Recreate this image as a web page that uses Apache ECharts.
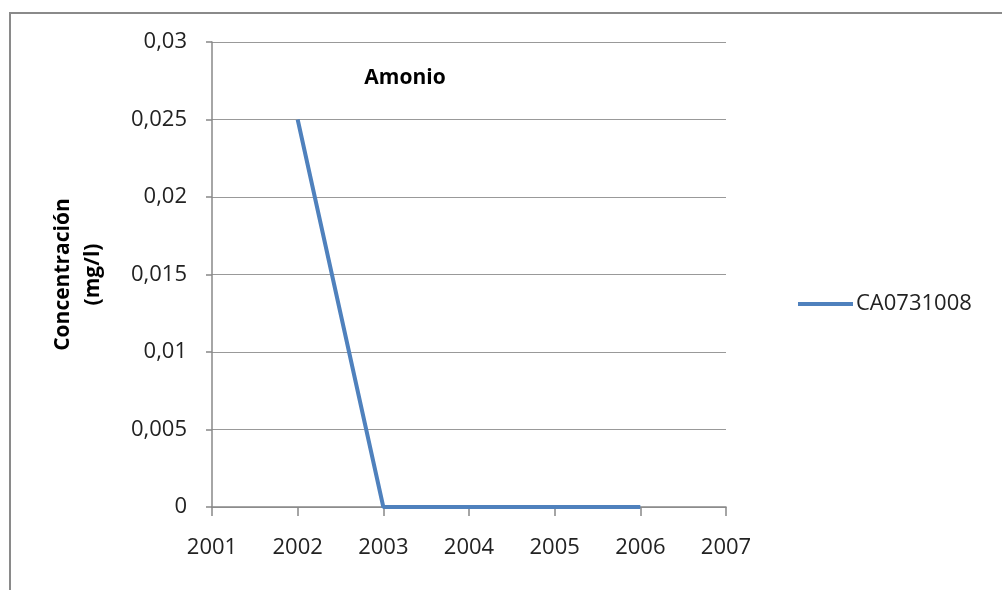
<!DOCTYPE html>
<html>
<head>
<meta charset="utf-8">
<script src="https://cdn.jsdelivr.net/npm/echarts@6/dist/echarts.min.js"></script>
<style>
html, body { margin: 0; padding: 0; background: #fff; }
#chart { width: 1002px; height: 590px; }
</style>
</head>
<body>
<div id="chart"></div>
<script>
// datos
var years = [2002, 2003, 2004, 2005, 2006];
var amonio = [0.025, 0, 0, 0, 0];
var seriesName = 'CA0731008';
var titulo = 'Amonio';
var ejeY = 'Concentración\n(mg/l)';

var pares = [];
for (var i = 0; i < years.length; i++) {
    pares.push([years[i], amonio[i]]);
}

var myChart = echarts.init(document.getElementById('chart'));
var fuente = '"Open Sans", "Liberation Sans", sans-serif';
var option = {
    animation: false,
    textStyle: { fontFamily: fuente },
    title: {
        text: titulo,
        left: 400,
        top: 63,
        textAlign: 'center',
        textStyle: { fontSize: 21, fontWeight: 'bold', color: '#000', fontFamily: fuente }
    },
    legend: {
        data: [seriesName],
        left: 793,
        top: 288,
        icon: 'rect',
        itemWidth: 55,
        itemHeight: 4,
        itemGap: 4,
        textStyle: { fontSize: 22, color: '#222', fontFamily: fuente, padding: [0, 0, 0, -2] }
    },
    graphic: [{
        type: 'rect',
        shape: { x: 10, y: 13, width: 1010, height: 600 },
        style: { fill: 'none', stroke: '#8a8a8a', lineWidth: 2 },
        silent: true
    }],
    grid: {
        left: 212,
        right: 276,
        top: 42,
        bottom: 83
    },
    xAxis: {
        type: 'value',
        min: 2001,
        max: 2007,
        interval: 1,
        axisLine: { lineStyle: { color: '#888', width: 1.5 } },
        axisTick: { show: true, length: 9, lineStyle: { color: '#888', width: 1.5 } },
        splitLine: { show: false },
        axisLabel: {
            fontSize: 22,
            color: '#222',
            margin: 30,
            formatter: function (v) { return String(v); }
        }
    },
    yAxis: {
        type: 'value',
        min: 0,
        max: 0.03,
        interval: 0.005,
        name: ejeY,
        nameLocation: 'middle',
        nameRotate: 90,
        nameGap: 104,
        nameTextStyle: { fontSize: 21, fontWeight: 'bold', color: '#000', lineHeight: 30, fontFamily: fuente },
        axisLine: { show: true, lineStyle: { color: '#888', width: 1.5 } },
        axisTick: { show: true, length: 6, lineStyle: { color: '#888', width: 1.5 } },
        splitLine: { lineStyle: { color: '#999', width: 1.2 } },
        axisLabel: {
            fontSize: 22,
            color: '#222',
            margin: 25,
            formatter: function (v) { return String(+v.toFixed(3)).replace('.', ','); }
        }
    },
    series: [{
        name: seriesName,
        type: 'line',
        data: pares,
        showSymbol: false,
        symbol: 'none',
        lineStyle: { color: '#4F81BD', width: 4 },
        itemStyle: { color: '#4F81BD' }
    }]
};
myChart.setOption(option);
</script>
</body>
</html>
